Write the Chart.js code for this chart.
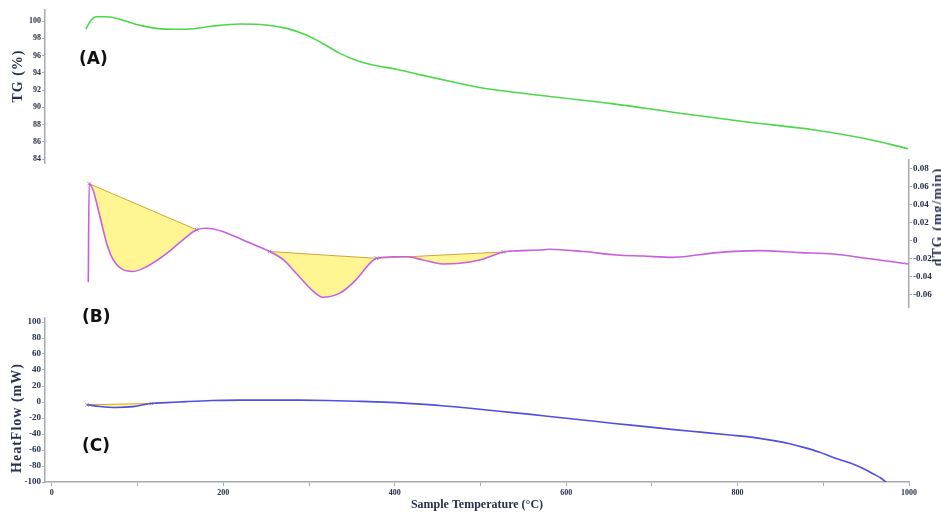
<!DOCTYPE html>
<html>
<head>
<meta charset="utf-8">
<title>TG / dTG / HeatFlow</title>
<script src="https://cdn.jsdelivr.net/npm/chart.js@4.4.1/dist/chart.umd.min.js"></script>
<style>
  body { margin: 0; background: #fff; }
  #wrap { position: relative; width: 941px; height: 512px; overflow: hidden; background: #fff; }
  canvas { position: absolute; left: 0; }
  .tag { position: absolute; font: bold 17px "DejaVu Sans", sans-serif; line-height: 20px; color: #111; }
  .ytitle {
    position: absolute; font: bold 14px "Liberation Serif", serif; color: #27304d;
    letter-spacing: 1px; white-space: nowrap; transform: translate(-50%, -50%) rotate(-90deg);
  }
</style>
</head>
<body>
<div id="wrap">
  <canvas id="tgChart" width="941" height="170" style="top:0px"></canvas>
  <canvas id="dtgChart" width="941" height="170" style="top:150px"></canvas>
  <canvas id="hfChart" width="941" height="202" style="top:310px"></canvas>
  <div class="tag" style="left:79px; top:48px">(A)</div>
  <div class="tag" style="left:82px; top:306px">(B)</div>
  <div class="tag" style="left:82px; top:435px">(C)</div>
  <div class="ytitle" style="left:18px; top:76px">TG (%)</div>
  <div class="ytitle" style="left:17px; top:418px">HeatFlow (mW)</div>
  <div class="ytitle" style="left:938px; top:217px">dTG (mg/min)</div>
</div>
<script>
// x axis (sample temperature)
const X_MIN = -8;
const X_MAX = 1000;
const X_TICKS = [0, 100, 200, 300, 400, 500, 600, 700, 800, 900, 1000];
const X_LABELED = [0, 200, 400, 600, 800, 1000];

const TG_TICKS = [84, 86, 88, 90, 92, 94, 96, 98, 100];
const DTG_TICKS = [-0.06, -0.04, -0.02, 0, 0.02, 0.04, 0.06, 0.08];
const HF_TICKS = [-100, -80, -60, -40, -20, 0, 20, 40, 60, 80, 100];

// (A) TG
const tgTemp = [39.7, 44.3, 52, 64, 83, 103, 122, 149, 161, 188, 219, 250, 274, 297, 316, 336,
  359, 375, 402, 433, 472, 499, 577, 655, 733, 811, 888, 947, 999];
const tgValue = [99.07, 99.9, 100.5, 100.5, 100.1, 99.5, 99.15, 99.04, 99.07, 99.42, 99.65, 99.54,
  99.15, 98.38, 97.4, 96.25, 95.3, 94.9, 94.4, 93.7, 92.85, 92.3, 91.3, 90.4, 89.3, 88.3, 87.4, 86.4, 85.2];

// (B) dTG
const dtgTemp = [42.5, 43.5, 48, 56, 64, 71.5, 83, 95, 110, 134, 153, 169, 180, 200, 227, 254, 270,
  285, 305, 316, 336, 355, 371, 379, 398, 414, 433, 456, 476, 499, 527, 538, 569, 581, 620, 659,
  690, 725, 776, 826, 873, 912, 950, 999];
const dtgValue = [-0.046, 0.063, 0.056, 0.027, -0.003, -0.021, -0.032, -0.034, -0.029, -0.014, 0.001,
  0.012, 0.0137, 0.010, -0.001, -0.012, -0.021, -0.036, -0.056, -0.0625, -0.058, -0.043, -0.025,
  -0.0195, -0.0177, -0.0177, -0.0213, -0.0257, -0.025, -0.0213, -0.0125, -0.0114, -0.0103, -0.0095,
  -0.012, -0.0158, -0.017, -0.0184, -0.0132, -0.011, -0.0132, -0.0147, -0.0195, -0.0257];
const dtgPeakFrom = [43.5, 254, 379];
const dtgPeakTo = [169, 379, 527];

// (C) HeatFlow
const hfTemp = [41, 56, 75, 95, 116, 134, 157, 187, 220, 254, 290, 321, 355, 388, 420, 455, 488,
  522, 556, 589, 622, 656, 690, 723, 757, 791, 820, 844, 862, 877, 895, 911, 925, 938, 950, 958, 967, 973];
const hfValue = [-3.5, -5.6, -6.8, -5.8, -1.8, -0.8, 0.5, 1.8, 2.3, 2.4, 2.3, 1.9, 1.0, -0.1, -2.0,
  -4.6, -7.8, -11.6, -15.2, -19, -22.8, -26.8, -30.5, -34.2, -37.7, -41.2, -44.5, -48.6, -52.5,
  -56.7, -62.5, -69, -74, -79, -85, -89.7, -95, -100];
const hfPeakFrom = [41];
const hfPeakTo = [116];

const AXIS_COLOR = '#a9a9b0';
const LABEL_COLOR = '#27304d';
const TG_COLOR = '#4bd84b';
const DTG_COLOR = '#c85fe0';
const HF_COLOR = '#4f4fe0';
const PEAK_FILL = 'rgba(255, 244, 128, 0.85)';
const PEAK_EDGE = '#d4a33a';


function toPoints(ts, vs) {
  return ts.map((t, i) => ({ x: t, y: vs[i] }));
}

function lineDataset(points, color) {
  return {
    data: points,
    borderColor: color,
    borderWidth: 1.6,
    pointRadius: 0,
    fill: false,
    cubicInterpolationMode: 'monotone',
  };
}

// a hidden piece of the curve + the straight baseline filled against it
function peakDatasets(ts, vs, from, to) {
  const sets = [];
  from.forEach((a, k) => {
    const b = to[k];
    const piece = toPoints(ts, vs).filter(p => p.x >= a && p.x <= b);
    sets.push({
      data: piece,
      borderWidth: 0,
      borderColor: 'rgba(0,0,0,0)',
      pointRadius: 0,
      fill: false,
      cubicInterpolationMode: 'monotone',
    });
    sets.push({
      data: [{ x: a, y: vs[ts.indexOf(a)] }, { x: b, y: vs[ts.indexOf(b)] }],
      borderColor: PEAK_EDGE,
      borderWidth: 1,
      backgroundColor: PEAK_FILL,
      pointStyle: 'crossRot',
      pointRadius: 2.5,
      pointBorderColor: '#999',
      pointBorderWidth: 1,
      fill: '-1',
    });
  });
  return sets;
}

function xAxis(shown) {
  const axis = {
    type: 'linear',
    display: shown,
    min: X_MIN,
    max: X_MAX,
    afterBuildTicks: s => { s.ticks = X_TICKS.map(v => ({ value: v })); },
    grid: { drawOnChartArea: false, tickLength: 4, color: AXIS_COLOR },
    border: { color: AXIS_COLOR, width: 1.5 },
    ticks: {
      autoSkip: false,
      maxRotation: 0,
      padding: 2,
      color: LABEL_COLOR,
      font: { family: 'Liberation Serif', size: 8, weight: 'bold' },
      callback: v => (X_LABELED.includes(v) ? String(v) : ''),
    },
  };
  if (shown) {
    axis.afterFit = s => { s.height = 30; };
    axis.title = {
      display: true,
      text: 'Sample Temperature (°C)',
      color: LABEL_COLOR,
      font: { family: 'Liberation Serif', size: 12, weight: 'bold' },
      padding: { top: 0, bottom: 0 },
    };
  }
  return axis;
}

function yAxis(position, tickValues, min, max, width, size, fmt) {
  return {
    type: 'linear',
    position: position,
    min: min,
    max: max,
    afterBuildTicks: s => { s.ticks = tickValues.map(v => ({ value: v })); },
    afterFit: s => { s.width = width; },
    grid: { drawOnChartArea: false, tickLength: 3, color: AXIS_COLOR },
    border: { color: AXIS_COLOR, width: 1.5 },
    ticks: {
      autoSkip: false,
      padding: 1,
      color: LABEL_COLOR,
      font: { family: 'Liberation Serif', size: size, weight: 'bold' },
      callback: fmt,
    },
  };
}

function createChart(id, datasets, yScale, showX, padding) {
  const ctx = document.getElementById(id).getContext('2d');
  return new Chart(ctx, {
    type: 'line',
    data: { datasets: datasets },
    options: {
      responsive: false,
      animation: false,
      events: [],
      layout: { padding: padding },
      scales: { x: xAxis(showX), y: yScale },
      plugins: { legend: { display: false }, tooltip: { enabled: false } },
    },
  });
}


createChart('tgChart',
  [lineDataset(toPoints(tgTemp, tgValue), TG_COLOR)],
  yAxis('left', TG_TICKS, 83.54, 101.28, 45, 8, v => String(v)),
  false, { top: 10, bottom: 7, left: 0, right: 32 });

createChart('dtgChart',
  [lineDataset(toPoints(dtgTemp, dtgValue), DTG_COLOR)].concat(
    peakDatasets(dtgTemp, dtgValue, dtgPeakFrom, dtgPeakTo)),
  yAxis('right', DTG_TICKS, -0.0733, 0.0892, 32, 9, v => (v === 0 ? '0' : v.toFixed(2))),
  false, { top: 10, bottom: 13, left: 45, right: 0 });

createChart('hfChart',
  [lineDataset(toPoints(hfTemp, hfValue), HF_COLOR)].concat(
    peakDatasets(hfTemp, hfValue, hfPeakFrom, hfPeakTo)),
  yAxis('left', HF_TICKS, -100, 105, 45, 9, v => String(v)),
  true, { top: 8, bottom: 0, left: 0, right: 32 });
</script>
</body>
</html>
